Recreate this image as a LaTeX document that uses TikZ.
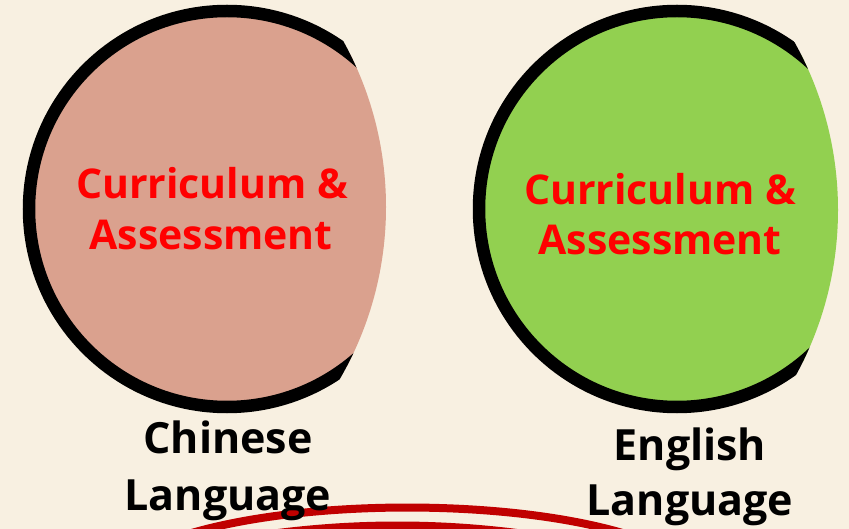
\documentclass[tikz,border=0pt]{standalone}
\usepackage{fontspec}
\setmainfont{Open Sans}
\definecolor{bgcol}{RGB}{248,240,225}
\definecolor{pinkfill}{RGB}{218,161,142}
\definecolor{greenfill}{RGB}{146,208,80}
\definecolor{arcred}{RGB}{192,0,0}
\definecolor{txtred}{RGB}{255,0,0}
\tikzset{
  ring/.style={draw=black, line width=12.5pt},
  redlbl/.style={text=txtred, font=\bfseries\fontsize{41}{51}\selectfont, inner sep=0pt, anchor=base},
  blklbl/.style={text=black, font=\bfseries\fontsize{43}{57}\selectfont, inner sep=0pt, anchor=base},
  redarc/.style={draw=arcred, line width=8pt}
}
\begin{document}
\begin{tikzpicture}[x=1pt,y=-1pt]
\fill[bgcol] (0,0) rectangle (849,529);
\useasboundingbox (0,0) rectangle (849,529);
% left circle
\begin{scope}
  \clip (43,207) circle (343);
  \draw[ring, fill=pinkfill] (227,209) circle (198);
\end{scope}
% right circle
\begin{scope}
  \clip (493,210) circle (345);
  \draw[ring, fill=greenfill] (677,209) circle (198);
\end{scope}
% red arcs
\draw[redarc] (170,540) .. controls (290,496.7) and (525,496.7) .. (644,540);
\draw[redarc] (205,545) .. controls (333,519) and (462,519) .. (590,545);
% labels
\node[redlbl] (lc1) at (212,199) {Curriculum \&};
\node[redlbl] (lc2) at (211,250) {Assessment};
\node[redlbl] (rc1) at (660,205) {Curriculum \&};
\node[redlbl] (rc2) at (660,255) {Assessment};
\node[blklbl] (ch) at (228,453) {Chinese};
\node[blklbl] (chl) at (228,510) {Language};
\node[blklbl] (en) at (690,460) {English};
\node[blklbl] (enl) at (690,515) {Language};
\end{tikzpicture}
\end{document}
